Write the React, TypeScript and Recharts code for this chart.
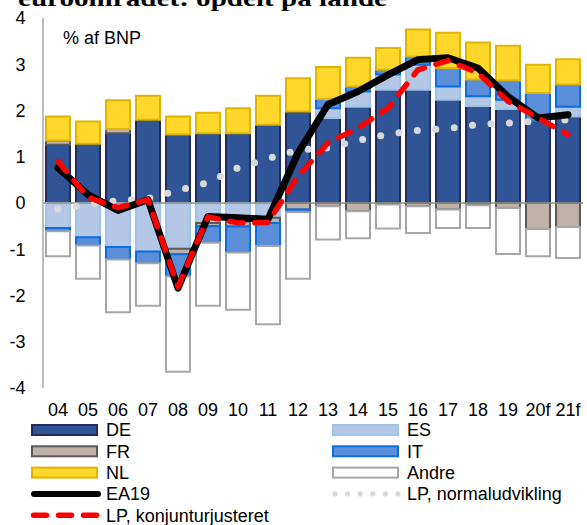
import React from 'react';
import { ComposedChart, Bar, Line, XAxis, YAxis, ReferenceLine } from 'recharts';

const years = ['04', '05', '06', '07', '08', '09', '10', '11', '12', '13', '14', '15', '16', '17', '18', '19', '20f', '21f'];
const DE = [1.26, 1.28, 1.51, 1.8, 1.48, 1.51, 1.51, 1.69, 1.98, 1.84, 2.08, 2.45, 2.45, 2.23, 2.1, 2.03, 1.76, 1.87];
const ES = [-0.54, -0.74, -0.95, -1.05, -0.99, -0.43, -0.4, -0.32, 0, 0.21, 0.33, 0.33, 0.54, 0.29, 0.21, 0.2, 0, 0.21];
const FR = [0.09, 0, 0.09, 0, -0.12, -0.07, -0.11, -0.11, -0.14, -0.07, -0.18, -0.03, -0.07, -0.14, -0.05, -0.11, -0.56, -0.52];
const IT = [-0.07, -0.18, -0.27, -0.25, -0.48, -0.36, -0.56, -0.5, -0.06, 0.2, 0.11, 0.1, 0.18, 0.4, 0.36, 0.42, 0.62, 0.48];
const NL = [0.52, 0.48, 0.62, 0.52, 0.39, 0.44, 0.54, 0.63, 0.72, 0.69, 0.62, 0.47, 0.58, 0.76, 0.8, 0.75, 0.61, 0.55];
const Andre = [-0.54, -0.72, -1.14, -0.92, -2.06, -1.36, -1.24, -1.69, -1.44, -0.72, -0.58, -0.52, -0.58, -0.4, -0.49, -0.99, -0.59, -0.67];
const EA19 = [0.76, 0.18, -0.16, 0.07, -1.84, -0.29, -0.32, -0.35, 1.08, 2.13, 2.41, 2.77, 3.1, 3.14, 2.92, 2.3, 1.84, 1.91];
const LPnormal = [-0.13, -0.03, 0.05, 0.1, 0.27, 0.44, 0.76, 0.96, 1.15, 1.19, 1.35, 1.49, 1.57, 1.61, 1.7, 1.73, 1.77, 1.8];
const LPkonj = [0.9, 0.12, -0.1, 0.07, -1.81, -0.3, -0.43, -0.42, 0.58, 1.3, 1.62, 2.05, 2.88, 3.08, 2.81, 2.2, 1.84, 1.48];
const yTicks = [-4, -3, -2, -1, 0, 1, 2, 3, 4];

const title = 'euroområdet: opdelt på lande';
const yUnit = '% af BNP';

const data = years.map((year, i) => ({
  year,
  DE: DE[i],
  ES: ES[i],
  FR: FR[i],
  IT: IT[i],
  NL: NL[i],
  Andre: Andre[i],
  EA19: EA19[i],
  LPnormal: LPnormal[i],
  LPkonj: LPkonj[i],
}));

const FONT = '"Liberation Sans", Arial, sans-serif';

const barSeries = [
  { key: 'DE', name: 'DE', fill: '#2F5597', stroke: '#222B5C' },
  { key: 'ES', name: 'ES', fill: '#B4C7E7', stroke: '#9DC3E6' },
  { key: 'FR', name: 'FR', fill: '#BFB0A8', stroke: '#595959' },
  { key: 'IT', name: 'IT', fill: '#5B8ED8', stroke: '#0A6FE0' },
  { key: 'NL', name: 'NL', fill: '#FFD62A', stroke: '#E0B400' },
  { key: 'Andre', name: 'Andre', fill: '#FFFFFF', stroke: '#A6A6A6' },
];

const legendLeft = [
  { type: 'bar', key: 'DE' },
  { type: 'bar', key: 'FR' },
  { type: 'bar', key: 'NL' },
  { type: 'solid', name: 'EA19' },
  { type: 'dash', name: 'LP, konjunturjusteret' },
];
const legendRight = [
  { type: 'bar', key: 'ES' },
  { type: 'bar', key: 'IT' },
  { type: 'bar', key: 'Andre' },
  { type: 'dots', name: 'LP, normaludvikling' },
];
const legendRows = [430, 451.3, 472.6, 493.9, 515.2];

const XTick = (props: any) => {
  const { x, y, payload } = props;
  return (
    <text x={x} y={y + 22} dy="0.35em" textAnchor="middle" fontFamily={FONT} fontSize={18} fill="#000">
      {payload.value}
    </text>
  );
};

const YTick = (props: any) => {
  const { x, y, payload } = props;
  return (
    <text x={x} y={y} dy="0.35em" textAnchor="end" fontFamily={FONT} fontSize={18} fill="#000">
      {payload.value}
    </text>
  );
};

const LegendItem = ({ item, x, y }: any) => {
  const sw = 65;
  let swatch: any = null;
  let label = item.name;
  if (item.type === 'bar') {
    const s = barSeries.find((b) => b.key === item.key)!;
    label = s.name;
    swatch = <rect x={x + 1} y={y - 5} width={sw} height={10} fill={s.fill} stroke={s.stroke} strokeWidth={2} />;
  } else if (item.type === 'solid') {
    swatch = <line x1={x + 3} x2={x + sw + 2} y1={y} y2={y} stroke="#000" strokeWidth={6} strokeLinecap="round" />;
  } else if (item.type === 'dash') {
    swatch = (
      <line x1={x + 2.5} x2={x + sw + 2} y1={y} y2={y} stroke="#FF0000" strokeWidth={5.5} strokeLinecap="round" strokeDasharray="13 12" />
    );
  } else if (item.type === 'dots') {
    swatch = (
      <g>
        {[0, 1, 2, 3, 4, 5].map((k) => (
          <circle key={k} cx={x + 3 + k * 12.6} cy={y} r={2.6} fill="#D9D9D9" />
        ))}
      </g>
    );
  }
  return (
    <g>
      {swatch}
      <text x={x + 75} y={y} dy="0.35em" fontFamily={FONT} fontSize={18} fill="#000">
        {label}
      </text>
    </g>
  );
};

export default function App() {
  return (
    <div style={{ position: 'absolute', left: 0, top: 0, width: 587, height: 525, overflow: 'hidden', background: '#fff' }}>
      <ComposedChart
        width={587}
        height={525}
        data={data}
        stackOffset="sign"
        margin={{ top: 18, right: 4, bottom: 0, left: 0 }}
        barCategoryGap={0}
      >
        <XAxis
          dataKey="year"
          height={137}
          axisLine={false}
          tickLine={false}
          tickSize={0}
          tickMargin={0}
          interval={0}
          tick={<XTick />}
        />
        <YAxis
          width={43}
          domain={[-4, 4]}
          ticks={yTicks}
          interval={0}
          allowDataOverflow
          axisLine={{ stroke: '#A6A6A6', strokeWidth: 1.5 }}
          tickLine={false}
          tickSize={0}
          tickMargin={17.5}
          tick={<YTick />}
        />
        {barSeries.map((s) => (
          <Bar
            key={s.key}
            dataKey={s.key}
            name={s.name}
            stackId="a"
            barSize={24}
            fill={s.fill}
            stroke={s.stroke}
            strokeWidth={2}
            isAnimationActive={false}
          />
        ))}
        <ReferenceLine y={0} stroke="#8C8C8C" strokeWidth={1.5} />
        <Line
          dataKey="LPnormal"
          type="linear"
          stroke="#D9D9D9"
          strokeWidth={7}
          strokeLinecap="round"
          strokeDasharray="0 18.5"
          dot={false}
          activeDot={false}
          isAnimationActive={false}
        />
        <Line
          dataKey="EA19"
          type="linear"
          stroke="#000000"
          strokeWidth={7}
          strokeLinecap="round"
          strokeLinejoin="round"
          dot={false}
          activeDot={false}
          isAnimationActive={false}
        />
        <Line
          dataKey="LPkonj"
          type="linear"
          stroke="#FF0000"
          strokeWidth={5.5}
          strokeLinecap="round"
          strokeLinejoin="round"
          strokeDasharray="13 12"
          dot={false}
          activeDot={false}
          isAnimationActive={false}
        />
      </ComposedChart>
      <svg width={587} height={525} style={{ position: 'absolute', left: 0, top: 0, pointerEvents: 'none' }}>
        <text
          x={18}
          y={6}
          fontFamily='"Liberation Serif", "Times New Roman", serif'
          fontWeight="bold"
          fontSize={24}
          textLength={369}
          lengthAdjust="spacingAndGlyphs"
          fill="#000"
        >
          {title}
        </text>
        <text x={63} y={38} dy="0.35em" fontFamily={FONT} fontSize={18} fill="#000">
          {yUnit}
        </text>
        {legendLeft.map((item, i) => (
          <LegendItem key={'l' + i} item={item} x={31} y={legendRows[i]} />
        ))}
        {legendRight.map((item, i) => (
          <LegendItem key={'r' + i} item={item} x={332} y={legendRows[i]} />
        ))}
      </svg>
    </div>
  );
}
